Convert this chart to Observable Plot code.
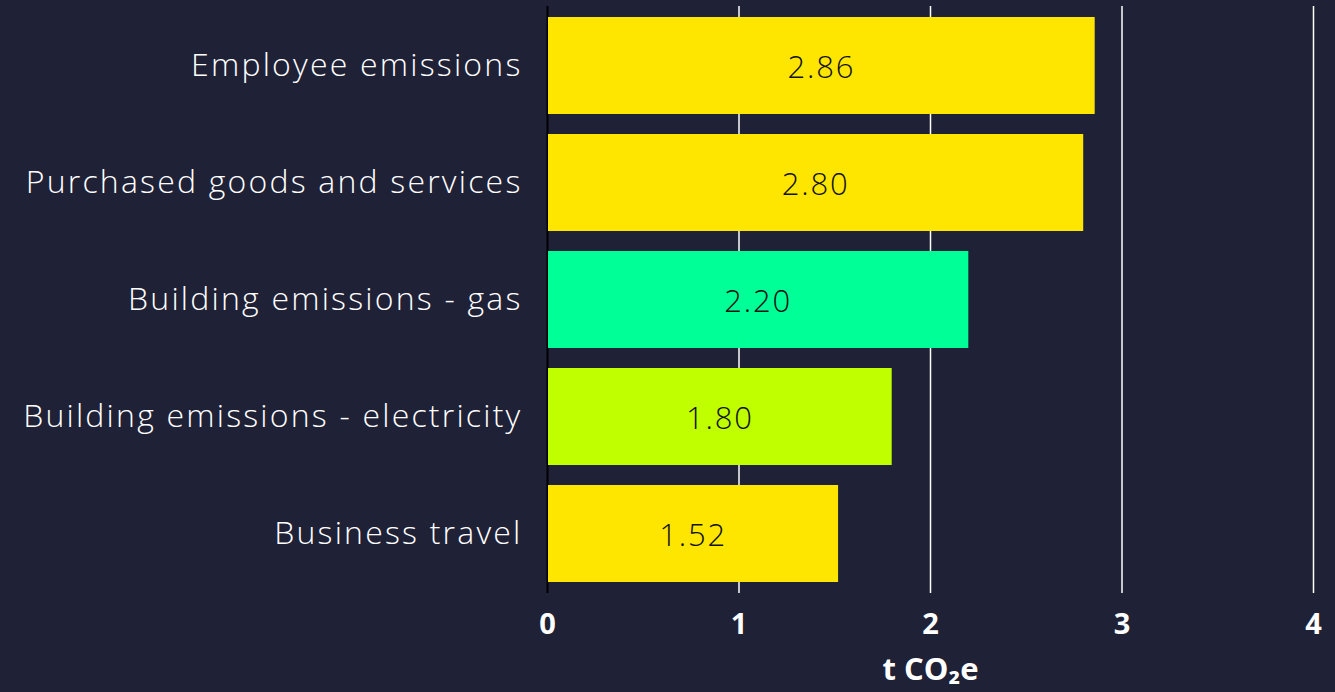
<!DOCTYPE html>
<html>
<head>
<meta charset="utf-8">
<script src="https://cdn.jsdelivr.net/npm/d3@7"></script>
<script src="https://cdn.jsdelivr.net/npm/@observablehq/plot@0.6"></script>
<style>
  html, body { margin: 0; padding: 0; background: #1f2136; }
  #chart svg { display: block; }
  #chart svg g[aria-label="y-axis tick label"] text { letter-spacing: 2.2px; }
  #chart svg g.vals text { letter-spacing: 1.8px; }
</style>
</head>
<body>
<div id="chart"></div>
<script>
const categories = ["Employee emissions", "Purchased goods and services", "Building emissions - gas", "Building emissions - electricity", "Business travel"];
const values = [2.86, 2.80, 2.20, 1.80, 1.52];
const colors = ["#ffe600", "#ffe600", "#00ff96", "#bfff00", "#ffe600"];
const xTicks = [0, 1, 2, 3, 4];
const xLabel = "t CO₂e";

const data = categories.map((c, i) => ({category: c, value: values[i], color: colors[i]}));

const chart = Plot.plot({
  width: 1335,
  height: 692,
  marginLeft: 547,
  marginRight: 22,
  marginTop: 6,
  marginBottom: 99,
  style: {background: "#1f2136", color: "#ffffff", fontFamily: "'Open Sans', sans-serif"},
  x: {domain: [0, 4], ticks: xTicks, tickFormat: "d"},
  y: {domain: categories, paddingInner: 0.17, paddingOuter: 0.085},
  marks: [
    Plot.ruleX(xTicks.filter(d => d > 0), {stroke: "#ffffff", strokeWidth: 1.5}),
    Plot.ruleX([0], {stroke: "#000000", strokeWidth: 2}),
    Plot.barX(data, {y: "category", x: "value", fill: "color", insetLeft: 1}),
    Plot.text(data, {y: "category", x: d => d.value / 2, text: d => d.value.toFixed(2), fill: "#111111", fontSize: 31, fontWeight: 300, dy: 2, className: "vals"}),
    Plot.axisX({ticks: xTicks, tickFormat: "d", tickSize: 0, tickPadding: 20, fontSize: 29, fontWeight: 700, fill: "#ffffff", label: null}),
    Plot.text([xLabel], {frameAnchor: "bottom", x: () => 2, dy: 86, text: d => d, fill: "#ffffff", fontSize: 31, fontWeight: 700, lineAnchor: "bottom"}),
    Plot.axisY({tickSize: 0, tickPadding: 25, fontSize: 32, fontWeight: 300, fill: "#ffffff", label: null})
  ]
});
document.getElementById("chart").appendChild(chart);
</script>
</body>
</html>
